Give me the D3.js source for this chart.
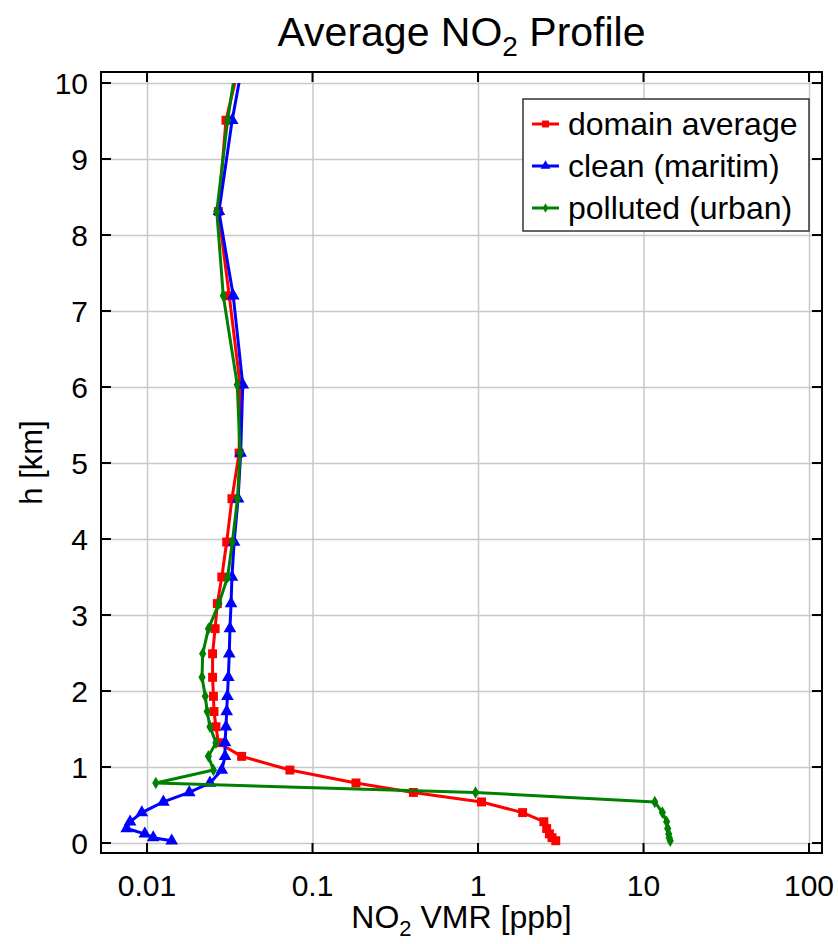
<!DOCTYPE html>
<html>
<head>
<meta charset="utf-8">
<script src="https://cdn.jsdelivr.net/npm/d3@7"></script>
<style>
  html, body { margin: 0; padding: 0; background: #fff; }
  svg { display: block; font-family: "Liberation Sans", Arial, Helvetica, sans-serif; }
</style>
</head>
<body>
<svg id="chart" width="838" height="944"></svg>
<script>
// altitude levels [km], bottom to top (last one lies above the axis and gets clipped)
const heights = [0.03, 0.07, 0.12, 0.19, 0.28, 0.40, 0.54, 0.665, 0.79, 0.96, 1.14, 1.32, 1.53, 1.73,
  1.93, 2.18, 2.49, 2.82, 3.15, 3.5, 3.96, 4.53, 5.13, 6.03, 7.2, 8.31, 9.51, 10.5]

// NO2 VMR [ppb] per level
const domainAverage = [2.95, 2.8, 2.7, 2.6, 2.5, 1.86, 1.05, 0.407, 0.183, 0.073, 0.0373, 0.027, 0.0261, 0.0254,
  0.0252, 0.0249, 0.0249, 0.0258, 0.0266, 0.0283, 0.0303, 0.0326, 0.036, 0.0365, 0.0314, 0.027, 0.03, 0.0385]
const cleanMaritim = [0.0141, 0.0109, 0.0097, 0.00754, 0.0079, 0.0093, 0.01255, 0.018, 0.024, 0.0283, 0.0296, 0.0296, 0.03, 0.0303,
  0.0306, 0.031, 0.0314, 0.0317, 0.0322, 0.0326, 0.0336, 0.0355, 0.0368, 0.0379, 0.0332, 0.0272, 0.0327, 0.0396]
const pollutedUrban = [14.5, 14.3, 14.2, 14.0, 13.8, 13.0, 11.7, 0.966, 0.0113, 0.0252, 0.0235, 0.0261, 0.024, 0.0231,
  0.0225, 0.0215, 0.0217, 0.0235, 0.0272, 0.0307, 0.0328, 0.0352, 0.0365, 0.0351, 0.0289, 0.0264, 0.0307, 0.036]

const seriesNames = ['domain average', 'clean (maritim)', 'polluted (urban)']
const xTicks = [0.01, 0.1, 1, 10, 100]
const xTickLabels = ['0.01', '0.1', '1', '10', '100']
const yTicks = [0, 1, 2, 3, 4, 5, 6, 7, 8, 9, 10]

const svg = d3.select('#chart')

// plot box
const boxLeft = 101, boxRight = 822, boxTop = 72, boxBottom = 853

const x = d3.scaleLog()
  .domain([Math.pow(10, -2.278), Math.pow(10, 2.0785)])
  .range([boxLeft, boxRight])
const y = d3.scaleLinear()
  .domain([0, 10])
  .range([843, 83])

const series = [
  { name: seriesNames[0], values: domainAverage, color: '#ff0000', symbol: d3.symbolSquare, size: 80 },
  { name: seriesNames[1], values: cleanMaritim, color: '#0000ff', symbol: d3.symbolTriangle, size: 70 },
  { name: seriesNames[2], values: pollutedUrban, color: '#008000', symbol: d3.symbolDiamond, size: 45 }
]

svg.append('defs').append('clipPath').attr('id', 'clip')
  .append('rect')
  .attr('x', boxLeft).attr('y', y(10))
  .attr('width', boxRight - boxLeft).attr('height', boxBottom - y(10))

// grid lines
svg.append('g')
  .attr('transform', `translate(0,${boxBottom})`)
  .call(d3.axisBottom(x).tickValues(xTicks).tickSize(-(boxBottom - boxTop)).tickFormat(''))
  .call(g => g.select('.domain').remove())
  .call(g => g.selectAll('line').attr('stroke', '#c8c8c8').attr('stroke-width', 1.5))
svg.append('g')
  .attr('transform', `translate(${boxLeft},0)`)
  .call(d3.axisLeft(y).tickValues(yTicks).tickSize(-(boxRight - boxLeft)).tickFormat(''))
  .call(g => g.select('.domain').remove())
  .call(g => g.selectAll('line').attr('stroke', '#c8c8c8').attr('stroke-width', 1.5))

// lines and markers
const plot = svg.append('g').attr('clip-path', 'url(#clip)')
series.forEach(s => {
  const pts = heights.map((h, i) => ({ h, v: s.values[i] }))
  plot.append('path')
    .datum(pts)
    .attr('fill', 'none')
    .attr('stroke', s.color)
    .attr('stroke-width', 3)
    .attr('stroke-linejoin', 'round')
    .attr('d', d3.line().x(d => x(d.v)).y(d => y(d.h)))
  plot.selectAll(null)
    .data(pts)
    .enter()
    .append('path')
    .attr('transform', d => `translate(${x(d.v)},${y(d.h)})`)
    .attr('d', d3.symbol().type(s.symbol).size(s.size))
    .attr('fill', s.color)
})

// ticks on all four sides
const tickLen = 10
const axes = svg.append('g').attr('stroke', '#000').attr('stroke-width', 2)
xTicks.forEach(t => {
  axes.append('line').attr('x1', x(t)).attr('x2', x(t)).attr('y1', boxBottom).attr('y2', boxBottom - tickLen)
  axes.append('line').attr('x1', x(t)).attr('x2', x(t)).attr('y1', boxTop).attr('y2', boxTop + tickLen)
})
yTicks.forEach(t => {
  axes.append('line').attr('x1', boxLeft).attr('x2', boxLeft + tickLen).attr('y1', y(t)).attr('y2', y(t))
  axes.append('line').attr('x1', boxRight).attr('x2', boxRight - tickLen).attr('y1', y(t)).attr('y2', y(t))
})
svg.append('rect')
  .attr('x', boxLeft).attr('y', boxTop)
  .attr('width', boxRight - boxLeft).attr('height', boxBottom - boxTop)
  .attr('fill', 'none').attr('stroke', '#000').attr('stroke-width', 2)

// tick labels
svg.append('g').selectAll('text')
  .data(xTicks)
  .enter()
  .append('text')
  .attr('x', d => x(d))
  .attr('y', 896)
  .attr('text-anchor', 'middle')
  .attr('font-size', 30)
  .text((d, i) => xTickLabels[i])
svg.append('g').selectAll('text')
  .data(yTicks)
  .enter()
  .append('text')
  .attr('x', 88)
  .attr('y', d => y(d) + 11)
  .attr('text-anchor', 'end')
  .attr('font-size', 30)
  .text(d => d)

// title
const title = svg.append('text')
  .attr('x', (boxLeft + boxRight) / 2)
  .attr('y', 46)
  .attr('text-anchor', 'middle')
  .attr('font-size', 41)
title.append('tspan').text('Average NO')
title.append('tspan').attr('font-size', 28).attr('dy', 10).text('2')
title.append('tspan').attr('dy', -10).text(' Profile')

// axis labels
const xLabel = svg.append('text')
  .attr('x', (boxLeft + boxRight) / 2)
  .attr('y', 928)
  .attr('text-anchor', 'middle')
  .attr('font-size', 32)
xLabel.append('tspan').text('NO')
xLabel.append('tspan').attr('font-size', 22).attr('dy', 8).text('2')
xLabel.append('tspan').attr('dy', -8).text(' VMR [ppb]')

svg.append('text')
  .attr('transform', `translate(42,${(boxTop + boxBottom) / 2}) rotate(-90)`)
  .attr('text-anchor', 'middle')
  .attr('font-size', 31)
  .text('h [km]')

// legend
const legend = svg.append('g')
legend.append('rect')
  .attr('x', 523).attr('y', 99)
  .attr('width', 286).attr('height', 132)
  .attr('fill', '#fff').attr('stroke', '#333').attr('stroke-width', 1.5)
series.forEach((s, i) => {
  const ly = 124 + i * 42
  legend.append('line')
    .attr('x1', 532).attr('x2', 559).attr('y1', ly).attr('y2', ly)
    .attr('stroke', s.color).attr('stroke-width', 3)
  legend.append('path')
    .attr('transform', `translate(545.5,${ly})`)
    .attr('d', d3.symbol().type(s.symbol).size(s.size * 0.6))
    .attr('fill', s.color)
  legend.append('text')
    .attr('x', 568).attr('y', ly + 11)
    .attr('font-size', 32)
    .text(s.name)
})
</script>
</body>
</html>
